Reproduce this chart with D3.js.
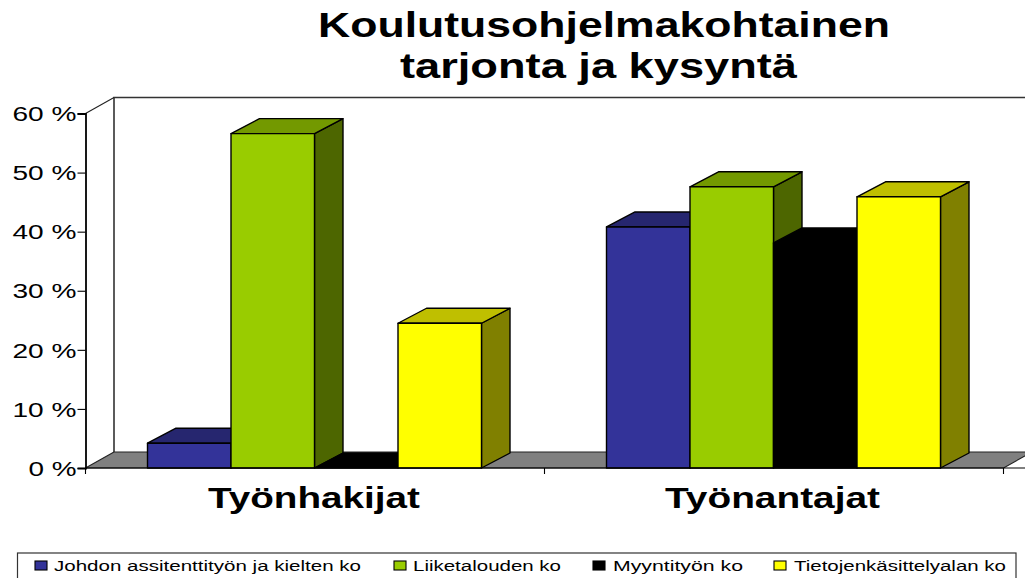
<!DOCTYPE html>
<html><head><meta charset="utf-8">
<script src="https://cdnjs.cloudflare.com/ajax/libs/d3/7.8.5/d3.min.js"></script>
<style>html,body{margin:0;padding:0;background:#fff;overflow:hidden}svg{display:block}text{font-family:"Liberation Sans",Arial,sans-serif;fill:#000}</style>
</head><body><svg id="c" width="1025" height="578"></svg>
<script>
const categories = ["Työnhakijat", "Työnantajat"];
const seriesNames = ["Johdon assitenttityön ja kielten ko", "Liiketalouden ko", "Myyntityön ko", "Tietojenkäsittelyalan ko"];
const johdon = [4.2, 40.8];
const liiketalous = [56.6, 47.6];
const myynti = [0, 38.1];
const tieto = [24.5, 45.9];
const yTicks = [0, 10, 20, 30, 40, 50, 60];
const titleLines = ["Koulutusohjelmakohtainen", "tarjonta ja kysyntä"];
const fronts = ["#333399", "#99cc00", "#000000", "#ffff00"];
const tops = ["#26266f", "#739900", "#000000", "#bfbf00"];
const sides = ["#1a1a4d", "#4d6600", "#000000", "#808000"];

const svg = d3.select("#c");
const x0 = d3.scaleBand().domain(categories).range([85.5, 1003.5]);
const x1 = d3.scaleBand().domain(d3.range(4)).range([62, 396]);
const y = d3.scaleLinear().domain([0, 60]).range([468, 113.5]);
const dx = 28.5, dy = -16, barDy = -15;
const stroke = "#000";
const poly = (pts, fill, sw = 1.4, st = stroke) => svg.append("polygon")
  .attr("points", pts.map(p => p.join(",")).join(" "))
  .attr("fill", fill).attr("stroke", st).attr("stroke-width", sw).attr("stroke-linejoin", "round");

// walls and floor
const L = x0.range()[0], R = x0.range()[1], Y0 = y(0), Y6 = y(60);
svg.append("path").attr("d", `M${L + dx},${Y0 + dy}V${Y6 + dy}H1030`).attr("fill", "#fff").attr("stroke", "#333").attr("stroke-width", 1.6);
svg.append("line").attr("x1", L).attr("y1", Y6).attr("x2", L + dx).attr("y2", Y6 + dy).attr("stroke", "#222").attr("stroke-width", 1.1);
poly([[L, Y0], [L + dx, Y0 + dy], [R + dx, Y0 + dy], [R, Y0]], "#808080", 1.1, "#222");

// bars
const series = [johdon, liiketalous, myynti, tieto];
categories.forEach((c, ci) => {
  series.forEach((vals, si) => {
    const v = vals[ci];
    const a = x0(c) + x1(si), b = a + x1.bandwidth(), t = y(v), base = y(0);
    if (v > 0) poly([[b, base], [b + dx, base + barDy], [b + dx, t + barDy], [b, t]], sides[si]);
    poly([[a, t], [a + dx, t + barDy], [b + dx, t + barDy], [b, t]], tops[si]);
    if (v > 0) poly([[a, t], [b, t], [b, base], [a, base]], fronts[si]);
  });
});

// y axis
const yAxis = svg.append("g").attr("transform", `translate(${L},0)`)
  .call(d3.axisLeft(y).tickValues(yTicks).tickSize(8).tickPadding(1).tickFormat(d => d + " %"));
yAxis.select(".domain").attr("stroke", "#000").attr("stroke-width", 1.8);
yAxis.selectAll(".tick line").attr("stroke", "#000").attr("stroke-width", 1.1);
yAxis.selectAll("text").attr("font-size", 20).attr("font-family", '"Liberation Sans"').attr("fill", "#000").attr("dy", "0.36em")
  .attr("textLength", d => d === 0 ? 48 : 64).attr("lengthAdjust", "spacingAndGlyphs");

// x axis
const xAxisG = svg.append("g");
xAxisG.append("line").attr("x1", L).attr("x2", 1025).attr("y1", Y0).attr("y2", Y0).attr("stroke", "#000").attr("stroke-width", 1.2);
[L, x0(categories[1]), R].forEach(t => xAxisG.append("line").attr("x1", t).attr("x2", t).attr("y1", Y0).attr("y2", Y0 + 6).attr("stroke", "#000").attr("stroke-width", 1.1));
const catX = [[208, 212], [665, 215]];
categories.forEach((c, i) => svg.append("text").text(c).attr("x", catX[i][0]).attr("y", 508)
  .attr("font-size", 29).attr("font-weight", "bold").attr("textLength", catX[i][1]).attr("lengthAdjust", "spacingAndGlyphs"));

// title
const titleX = [[318, 572, 37], [400, 397, 78]];
titleLines.forEach((t, i) => svg.append("text").text(t).attr("x", titleX[i][0]).attr("y", titleX[i][2])
  .attr("font-size", 35).attr("font-weight", "bold").attr("textLength", titleX[i][1]).attr("lengthAdjust", "spacingAndGlyphs"));

// legend
svg.append("rect").attr("x", 17.5).attr("y", 553).attr("width", 998.5).attr("height", 40).attr("fill", "#fff").attr("stroke", "#333").attr("stroke-width", 1.2);
const lg = [[35, 54, 307], [394, 413, 148], [593, 613, 130], [774, 794, 212]];
seriesNames.forEach((n, i) => {
  svg.append("rect").attr("x", lg[i][0]).attr("y", 561).attr("width", 12).attr("height", 9).attr("fill", fronts[i]).attr("stroke", "#000").attr("stroke-width", 1.1);
  svg.append("text").text(n).attr("x", lg[i][1]).attr("y", 571).attr("font-size", 15.5).attr("textLength", lg[i][2]).attr("lengthAdjust", "spacingAndGlyphs");
});
</script></body></html>
